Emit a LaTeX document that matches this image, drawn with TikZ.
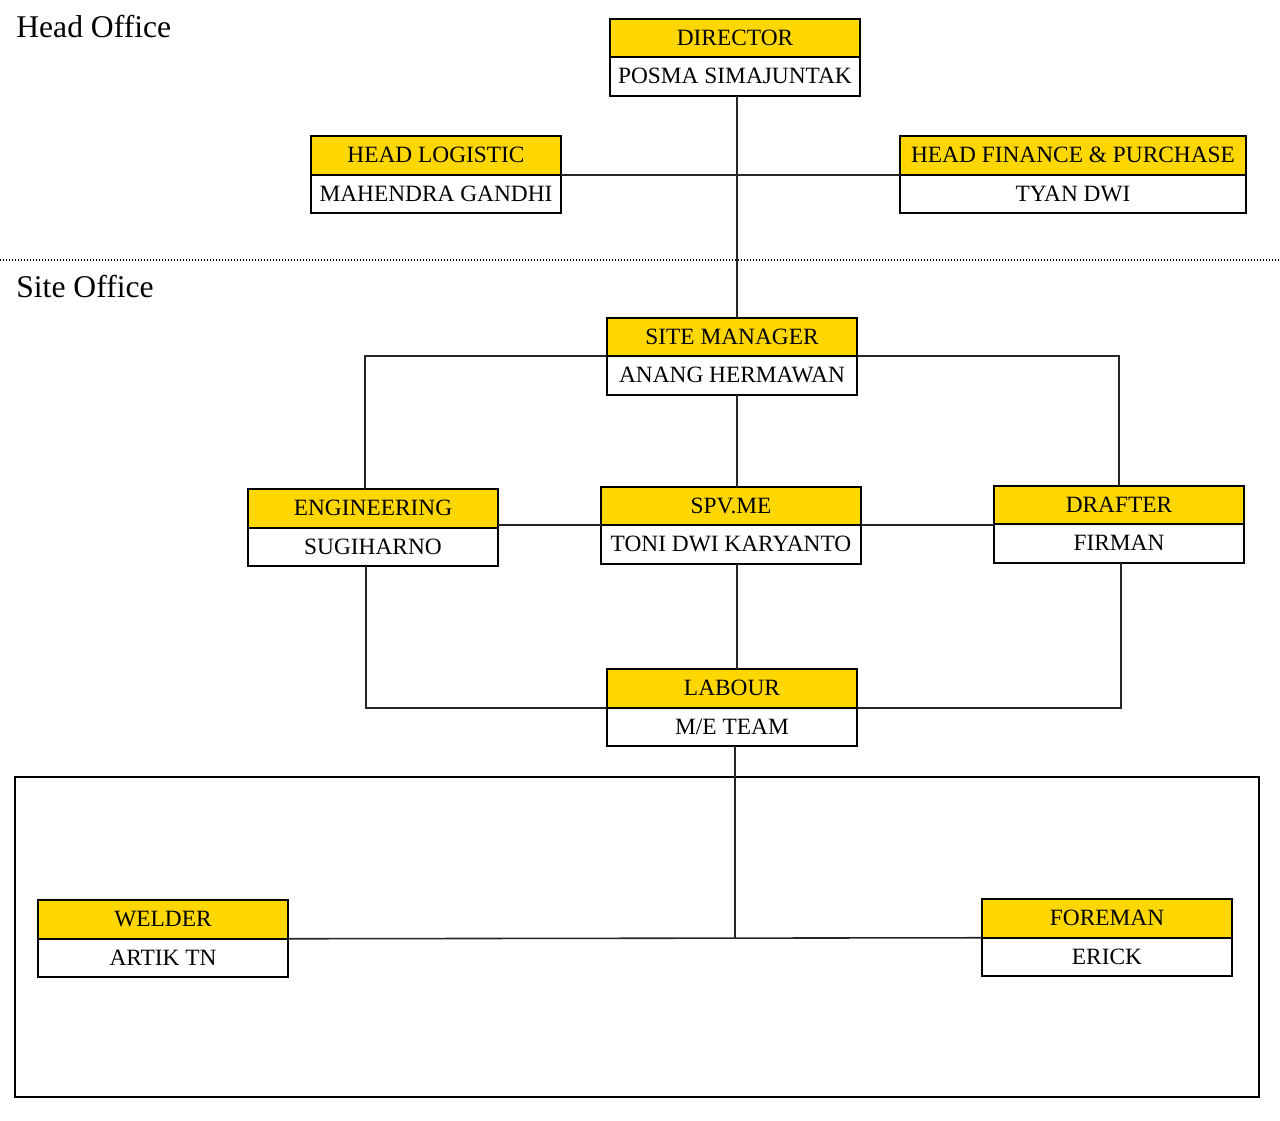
\documentclass[tikz,border=0pt]{standalone}
\usepackage{fontspec}
\setmainfont{Liberation Serif}
\usetikzlibrary{positioning}
\definecolor{roleyellow}{HTML}{FFD700}

\tikzset{
  role/.style={draw, line width=1.1pt, fill=roleyellow, minimum width=5cm,
    minimum height=0.77cm, inner sep=0pt, outer sep=0pt,
    text height=0.95em, text depth=0.1em,
    font=\fontsize{13.3}{16}\selectfont},
  person/.style={role, fill=white},
  link/.style={line width=0.9pt, draw=black!85},
  area/.style={anchor=base west, inner sep=0pt, font=\fontsize{18}{22}\selectfont},
}

\begin{document}
\begin{tikzpicture}[x=0.02cm, y=-0.02cm]
    \useasboundingbox (0,0) rectangle (1280,1120);

    % head office
    \node[area] (headLbl) at (16,37) {Head Office};
    \node[role] (dirTitle) at (735,38) {DIRECTOR};
    \node[person, below=0pt of dirTitle] (dirName) {POSMA SIMAJUNTAK};

    \node[role] (hlTitle) at (436,155.5) {HEAD LOGISTIC};
    \node[person, below=0pt of hlTitle] (hlName) {MAHENDRA GANDHI};

    \node[role, minimum width=6.92cm] (hfTitle) at (1073,155.5) {HEAD FINANCE \& PURCHASE};
    \node[person, minimum width=6.92cm, below=0pt of hfTitle] (hfName) {TYAN DWI};

    \draw[line width=0.8pt, dash pattern=on 0.02cm off 0.04cm] (0,260) -- (1280,260);

    % site office
    \node[area] (siteLbl) at (16,297) {Site Office};
    \node[role] (smTitle) at (732,337) {SITE MANAGER};
    \node[person, below=0pt of smTitle] (smName) {ANANG HERMAWAN};

    \node[role] (engTitle) at (373,508.5) {ENGINEERING};
    \node[person, below=0pt of engTitle] (engName) {SUGIHARNO};

    \node[role, minimum width=5.2cm] (spvTitle) at (731,506) {SPV.ME};
    \node[person, minimum width=5.2cm, below=0pt of spvTitle] (spvName) {TONI DWI KARYANTO};

    \node[role] (drTitle) at (1119,505) {DRAFTER};
    \node[person, below=0pt of drTitle] (drName) {FIRMAN};

    \node[role] (labTitle) at (732,688.5) {LABOUR};
    \node[person, below=0pt of labTitle] (labName) {M/E TEAM};

    % team frame
    \draw[line width=1.1pt] (15,777) rectangle (1259,1097);
    \node[role] (wdTitle) at (163,919.5) {WELDER};
    \node[person, below=0pt of wdTitle] (wdName) {ARTIK TN};

    \node[role] (frTitle) at (1107,918.5) {FOREMAN};
    \node[person, below=0pt of frTitle] (frName) {ERICK};

    % connectors
    \draw[link] ([xshift=0.04cm]dirName.south) -- ([xshift=0.04cm]dirName.south |- smTitle.north);
    \draw[link] (hlTitle.south east) -- (hfTitle.south west);

    \draw[link] (smTitle.south west) -| ([xshift=-0.16cm]engTitle.north);
    \draw[link] (smTitle.south east) -| (drTitle.north);
    \draw[link] ([xshift=0.1cm]smName.south) -- ([xshift=0.1cm]smName.south |- spvTitle.north);

    \draw[link] (spvTitle.south west -| engTitle.east) -- (spvTitle.south west);
    \draw[link] (spvTitle.south east) -- (spvTitle.south east -| drTitle.west);
    \draw[link] ([xshift=0.12cm]spvName.south) -- ([xshift=0.12cm]spvName.south |- labTitle.north);

    \draw[link] ([xshift=-0.14cm]engName.south) |- (labTitle.south west);
    \draw[link] ([xshift=0.04cm]drName.south) |- (labTitle.south east);

    \coordinate (hub) at ([xshift=0.06cm]labName.south |- frTitle.south);
    \draw[link] ([xshift=0.06cm]labName.south) -- (hub);
    \draw[link] (wdTitle.south east) -- (frTitle.south west);
\end{tikzpicture}
\end{document}
